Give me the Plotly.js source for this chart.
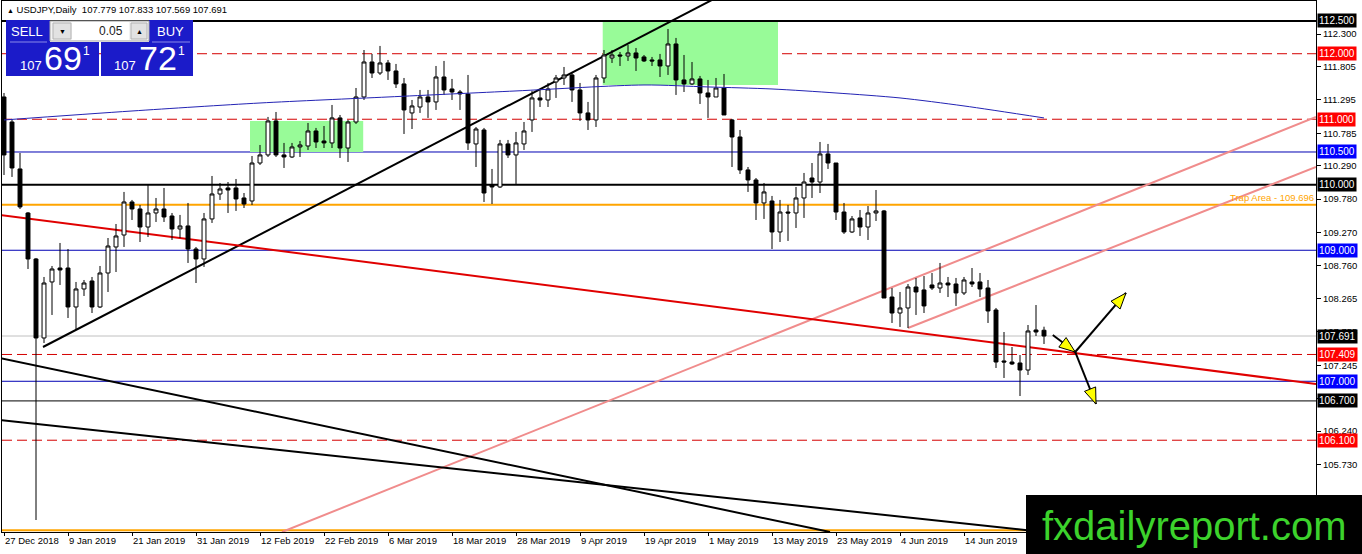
<!DOCTYPE html>
<html>
<head>
<meta charset="utf-8">
<script src="https://cdn.plot.ly/plotly-3.0.1.min.js"></script>
<style>
  html, body { margin: 0; padding: 0; background: #fff; }
  #chart { width: 1362px; height: 554px; }
</style>
</head>
<body>
<div id="chart"></div>
<script>
/* data */
const symbol = "USDJPY";
const period = "Daily";

const dateLabels = ["27 Dec 2018", "9 Jan 2019", "21 Jan 2019", "31 Jan 2019", "12 Feb 2019", "22 Feb 2019",
  "6 Mar 2019", "18 Mar 2019", "28 Mar 2019", "9 Apr 2019", "19 Apr 2019", "1 May 2019", "13 May 2019",
  "23 May 2019", "4 Jun 2019", "14 Jun 2019"];
const dateLabelBars = [0, 8, 16, 24, 32, 40, 48, 56, 64, 72, 80, 88, 96, 104, 112, 120];

const open = [111.340, 110.958, 110.241, 109.569, 108.867, 107.661, 108.516, 108.729, 108.729, 108.134,
  108.409, 108.531, 108.134, 108.653, 109.050, 109.233, 109.737, 109.630, 109.355, 109.569,
  109.630, 109.523, 109.325, 109.371, 109.019, 108.867, 109.478, 109.859, 109.951, 109.951,
  109.798, 109.752, 110.332, 110.455, 110.974, 110.455, 110.424, 110.577, 110.592, 110.821,
  110.668, 110.638, 111.020, 110.561, 110.958, 111.340, 111.874, 111.706, 111.859, 111.737,
  111.539, 111.096, 111.187, 111.340, 111.264, 111.645, 111.462, 111.416, 111.386, 110.623,
  110.836, 109.997, 109.966, 110.623, 110.455, 110.623, 110.989, 111.325, 111.294, 111.569,
  111.630, 111.676, 111.447, 111.096, 110.989, 111.630, 111.935, 111.981, 111.966, 112.012,
  111.951, 111.905, 111.905, 111.813, 112.149, 111.600, 111.539, 111.615, 111.401, 111.340,
  111.477, 110.989, 110.729, 110.226, 110.073, 109.722, 109.752, 109.279, 109.584, 109.569,
  109.798, 110.103, 110.042, 110.470, 110.332, 109.584, 109.279, 109.493, 109.355, 109.569,
  109.600, 108.286, 108.042, 108.119, 108.439, 108.394, 108.470, 108.424, 108.500, 108.485,
  108.348, 108.516, 108.516, 108.424, 108.088, 107.310, 107.294, 107.279, 107.172, 107.783,
  107.779];
const high = [111.401, 111.004, 110.485, 109.584, 108.882, 108.592, 108.760, 109.111, 109.019, 108.516,
  108.546, 108.592, 108.760, 109.187, 109.401, 109.890, 109.768, 109.691, 109.997, 109.798,
  109.951, 109.569, 109.539, 109.722, 109.050, 109.569, 110.134, 110.027, 110.042, 110.088,
  109.874, 110.439, 110.607, 111.035, 111.111, 110.638, 110.638, 110.668, 110.943, 110.867,
  110.897, 111.218, 111.065, 110.989, 111.477, 112.057, 111.997, 112.119, 111.905, 111.844,
  111.630, 111.294, 111.447, 111.447, 111.813, 111.890, 111.615, 111.447, 111.676, 110.882,
  110.867, 110.241, 110.684, 110.684, 110.806, 110.958, 111.432, 111.447, 111.554, 111.676,
  111.798, 111.722, 111.554, 111.264, 111.676, 112.057, 112.057, 112.027, 112.134, 112.088,
  111.981, 111.951, 111.997, 112.378, 112.241, 111.981, 111.874, 111.661, 111.600, 111.630,
  111.691, 111.004, 110.836, 110.271, 110.103, 110.027, 109.829, 109.768, 109.691, 109.966,
  110.180, 110.332, 110.653, 110.623, 110.332, 109.722, 109.523, 109.615, 109.676, 109.920,
  109.615, 108.424, 108.363, 108.485, 108.577, 108.607, 108.653, 108.806, 108.592, 108.577,
  108.592, 108.729, 108.653, 108.546, 108.119, 107.752, 107.523, 107.401, 107.859, 108.164,
  107.833];
const low = [110.149, 110.119, 109.630, 108.714, 104.882, 107.584, 108.012, 108.470, 107.966, 107.783,
  108.302, 108.042, 108.119, 108.363, 108.668, 109.050, 109.462, 109.126, 109.203, 109.432,
  109.432, 109.157, 109.187, 108.806, 108.500, 108.745, 109.417, 109.768, 109.569, 109.600,
  109.645, 109.691, 110.302, 110.424, 110.424, 110.256, 110.409, 110.424, 110.531, 110.561,
  110.561, 110.561, 110.409, 110.348, 110.928, 111.294, 111.630, 111.676, 111.600, 111.477,
  110.775, 110.851, 111.096, 111.020, 111.142, 111.371, 111.294, 111.142, 110.531, 110.271,
  109.737, 109.706, 109.951, 110.409, 110.012, 110.531, 110.806, 111.187, 111.187, 111.325,
  111.523, 111.264, 110.974, 110.836, 110.882, 111.554, 111.859, 111.813, 111.890, 111.737,
  111.874, 111.813, 111.645, 111.676, 111.371, 111.416, 111.523, 111.233, 111.020, 111.340,
  111.065, 110.271, 110.165, 109.890, 109.462, 109.478, 109.019, 109.126, 109.142, 109.340,
  109.493, 109.798, 109.874, 110.241, 109.462, 109.249, 109.264, 109.218, 109.157, 109.447,
  108.271, 107.890, 107.829, 107.813, 108.012, 108.042, 108.394, 108.348, 108.286, 108.150,
  108.317, 108.439, 108.286, 107.890, 107.203, 107.050, 107.249, 106.775, 107.096, 107.691,
  107.569];
const close = [110.455, 110.256, 109.661, 108.867, 107.661, 108.500, 108.714, 108.699, 108.134, 108.409,
  108.500, 108.134, 108.653, 109.065, 109.218, 109.737, 109.630, 109.355, 109.569, 109.630,
  109.508, 109.325, 109.371, 109.019, 108.867, 109.478, 109.859, 109.935, 109.920, 109.783,
  109.706, 110.332, 110.455, 110.974, 110.455, 110.424, 110.577, 110.607, 110.821, 110.653,
  110.638, 111.020, 110.561, 110.958, 111.340, 111.874, 111.706, 111.859, 111.737, 111.539,
  111.142, 111.203, 111.340, 111.264, 111.645, 111.447, 111.416, 111.386, 110.638, 110.851,
  109.874, 109.966, 110.623, 110.455, 110.638, 110.821, 111.325, 111.294, 111.462, 111.630,
  111.676, 111.447, 111.096, 110.989, 111.630, 111.981, 111.981, 111.966, 112.012, 111.935,
  111.890, 111.890, 111.813, 112.149, 111.600, 111.539, 111.615, 111.401, 111.340, 111.477,
  111.065, 110.729, 110.226, 110.073, 109.722, 109.890, 109.279, 109.584, 109.569, 109.798,
  110.042, 110.042, 110.470, 110.332, 109.584, 109.279, 109.478, 109.355, 109.569, 109.600,
  108.271, 108.042, 108.119, 108.439, 108.363, 108.150, 108.424, 108.500, 108.470, 108.348,
  108.546, 108.485, 108.409, 108.073, 107.294, 107.294, 107.264, 107.172, 107.768, 107.752,
  107.691];
const bars = open.map((_, i) => i);

// moving average (blue curve)
const maBars = [0, 16, 32, 48, 64, 80, 88, 96, 104, 112, 120, 130];
const maValues = [110.989, 111.126, 111.248, 111.340, 111.432, 111.523, 111.493, 111.462, 111.401, 111.325, 111.203, 111.020];

const priceTicks = [112.300, 111.805, 111.295, 110.785, 110.290, 109.780, 109.270, 108.760, 108.265,
  107.755, 107.245, 106.740, 106.240, 105.730, 105.220];

// horizontal levels and their kind
const levels = [112.500, 112.000, 111.000, 110.500, 110.000, 109.000, 107.691, 107.409, 107.000, 106.700, 106.100];
const levelKinds = ["major", "red", "red", "blue", "major", "blue", "price", "red", "blue", "black", "red"];
const trapLevel = 109.696;
const floorLevel = 104.725;

// trendlines: [bar0, price0, bar1, price1]
const redTrend = [-0.5, 109.539, 164, 106.958];
const riseTrend = [4.875, 107.523, 88.5, 112.821];
const fallTrendA = [-0.5, 107.355, 103.25, 104.699];
const fallTrendB = [-0.5, 106.409, 140, 104.567];
const pinkLong = [34.75, 104.699, 164, 111.035];
const pinkShort = [113, 107.813, 164, 110.271];

// green zones: [bar0, bar1, priceLow, priceHigh]
const zoneA = [30.75, 44.9, 110.500, 110.974];
const zoneB = [74.84, 96.75, 111.523, 112.485];

// arrows: from -> to
const arrowFromBar = [131.1, 133.9, 133.9];
const arrowFromPrice = [107.707, 107.447, 107.447];
const arrowToBar = [133.9, 140.25, 136.5];
const arrowToPrice = [107.447, 108.348, 106.653];

const lotSize = "0.05";
const bid = 107.691, ask = 107.721;

/* layout geometry */
const W = 1362, H = 554;
const M = { l: 2, r: 46, t: 1, b: 22 };
const plotW = W - M.l - M.r, plotH = H - M.t - M.b;
const xRange = [-0.25, 164];
const yRange = [104.699, 112.805];
const pxBar = plotW / (xRange[1] - xRange[0]);
const pxPrice = plotH / (yRange[1] - yRange[0]);
const px = x => (x - M.l) / plotW;
const py = y => (H - M.b - y) / plotH;

const FONT = "Liberation Sans, Arial, sans-serif";
const BLUE = "#1b1bc9";

const levelStyle = {
  major: { line: "#000000", width: 2, dash: "solid", label: "#000000" },
  black: { line: "#000000", width: 1, dash: "solid", label: "#000000" },
  red:   { line: "#d40000", width: 1, dash: "10px,5px", label: "#ff0000" },
  blue:  { line: "#0000b4", width: 1, dash: "solid", label: "#0000ff" },
  price: { line: "#c0c0c0", width: 1, dash: "solid", label: "#000000" },
};

const shapes = [];
const annotations = [];

[zoneA, zoneB].forEach(z => shapes.push({
  type: "rect", xref: "x", yref: "y", x0: z[0], x1: z[1], y0: z[2], y1: z[3],
  fillcolor: "#98fb98", line: { width: 0 }, layer: "below"
}));

levels.forEach((p, k) => {
  const s = levelStyle[levelKinds[k]];
  shapes.push({ type: "line", xref: "paper", x0: 0, x1: 1, yref: "y", y0: p, y1: p,
    line: { color: s.line, width: s.width, dash: s.dash }, layer: "below" });
  annotations.push({ xref: "paper", x: 1, xanchor: "left", xshift: 1, yref: "y", y: p,
    text: p.toFixed(3), showarrow: false, bgcolor: s.label, borderpad: 1,
    font: { family: FONT, size: 10, color: "#ffffff" } });
});

[trapLevel, floorLevel].forEach(p => shapes.push({ type: "line", xref: "paper", x0: 0, x1: 1, yref: "y",
  y0: p, y1: p, line: { color: "#ffa500", width: 2 }, layer: "below" }));
annotations.push({ xref: "paper", x: 1, xanchor: "right", yref: "y", y: trapLevel, yanchor: "bottom",
  text: "Trap Area - " + trapLevel.toFixed(3), showarrow: false,
  font: { family: FONT, size: 9.5, color: "#ffa500" } });

function trend(t, color, width) {
  shapes.push({ type: "line", xref: "x", yref: "y", x0: t[0], y0: t[1], x1: t[2], y1: t[3],
    line: { color: color, width: width }, layer: "below" });
}
trend(pinkLong, "#f08c8c", 2);
trend(pinkShort, "#f08c8c", 2);
trend(fallTrendA, "#000000", 2);
trend(fallTrendB, "#000000", 2);
trend(riseTrend, "#000000", 2);
trend(redTrend, "#e00000", 2);

// arrows with yellow heads
function headPath(x0, y0, x1, y1) {
  const dx = (x1 - x0) * pxBar, dy = (y1 - y0) * pxPrice;
  const len = Math.hypot(dx, dy), ux = dx / len, uy = dy / len;
  const L = 16, hw = 6;
  const bx = -ux * L, by = -uy * L;
  const pts = [[0, 0], [bx - uy * hw, by + ux * hw], [bx + uy * hw, by - ux * hw]];
  return "M" + pts.map(p => (x1 + p[0] / pxBar) + "," + (y1 + p[1] / pxPrice)).join(" L") + " Z";
}
arrowToBar.forEach((xb, k) => {
  shapes.push({ type: "line", xref: "x", yref: "y", x0: arrowFromBar[k], y0: arrowFromPrice[k],
    x1: xb, y1: arrowToPrice[k], line: { color: "#000", width: 2 }, layer: "above" });
});
arrowToBar.forEach((xb, k) => {
  shapes.push({ type: "path", xref: "x", yref: "y",
    path: headPath(arrowFromBar[k], arrowFromPrice[k], xb, arrowToPrice[k]),
    fillcolor: "#ffff00", line: { color: "#000", width: 1 }, layer: "above" });
});

/* one-click trading panel */
function prect(x0, y0, x1, y1, fill, lineColor) {
  shapes.push({ type: "rect", xref: "paper", yref: "paper", x0: px(x0), x1: px(x1), y0: py(y1), y1: py(y0),
    fillcolor: fill, line: { color: lineColor || fill, width: lineColor ? 1 : 0 }, layer: "above" });
}
function ptext(x, y, text, size, color, anchor) {
  annotations.push({ xref: "paper", yref: "paper", x: px(x), y: py(y), xanchor: anchor || "center",
    yanchor: "middle", text: text, showarrow: false, font: { family: FONT, size: size, color: color } });
}
prect(6, 20, 50, 42, BLUE);
prect(149, 20, 193, 42, BLUE);
prect(50, 21, 149, 41, "#f2f2f2", "#a8a8a8");
prect(53, 23, 71, 39, "#e2e2e2", "#b4b4b4");
prect(72, 22, 129, 40, "#ffffff");
prect(131, 23, 147, 39, "#e2e2e2", "#b4b4b4");
prect(6, 42, 99, 76, BLUE);
prect(101, 42, 193, 76, BLUE);
shapes.push({ type: "line", xref: "paper", yref: "paper", x0: px(10), x1: px(47), y0: py(42), y1: py(42),
  line: { color: "#8a8ae8", width: 1 }, layer: "above" });
shapes.push({ type: "line", xref: "paper", yref: "paper", x0: px(152), x1: px(190), y0: py(42), y1: py(42),
  line: { color: "#8a8ae8", width: 1 }, layer: "above" });

ptext(27, 31, "SELL", 13, "#ffffff");
ptext(170, 31, "BUY", 13, "#ffffff");
ptext(62, 31, "▼", 7, "#000000");
ptext(139, 31, "▲", 7, "#000000");
ptext(125, 31, lotSize, 12, "#202020", "right");

function quote(v, xBig, xSmall, xSup) {
  const s = v.toFixed(3);
  ptext(xSmall, 66, s.slice(0, 3), 13, "#ffffff");
  ptext(xBig, 58, s.slice(4, 6), 34, "#ffffff");
  ptext(xSup, 51, s.slice(6), 12, "#ffffff");
}
quote(bid, 63, 31, 86);
quote(ask, 158, 125, 181);

// header line
const last = open.length - 1;
annotations.push({ xref: "paper", yref: "paper", x: px(5), y: py(10), xanchor: "left", yanchor: "middle",
  showarrow: false, font: { family: FONT, size: 9.5, color: "#000" },
  text: '<span style="font-size:7px">▲</span> ' + symbol + "," + period + "  " +
    [open[last], high[last], low[last], close[last]].map(v => v.toFixed(3)).join(" ") });

// watermark
shapes.push({ type: "rect", xref: "paper", yref: "paper", x0: px(1026), x1: px(1362), y0: py(554), y1: py(495),
  fillcolor: "#000000", line: { width: 0 }, layer: "above" });
annotations.push({ xref: "paper", yref: "paper", x: px(1194), y: py(526), xanchor: "center", yanchor: "middle",
  text: "fxdailyreport.com", showarrow: false, font: { family: FONT, size: 40, color: "#3cd22c" } });

const traces = [
  {
    type: "candlestick", x: bars, open: open, high: high, low: low, close: close,
    increasing: { line: { color: "#000000", width: 1 }, fillcolor: "#ffffff" },
    decreasing: { line: { color: "#000000", width: 1 }, fillcolor: "#000000" },
    whiskerwidth: 0, hoverinfo: "none", showlegend: false
  },
  {
    type: "scatter", mode: "lines", x: maBars, y: maValues,
    line: { color: "#2323b4", width: 1, shape: "spline", smoothing: 0.8 },
    hoverinfo: "none", showlegend: false
  }
];

const layout = {
  width: W, height: H, autosize: false,
  margin: M,
  paper_bgcolor: "#ffffff", plot_bgcolor: "#ffffff",
  showlegend: false,
  font: { family: FONT, size: 10, color: "#000" },
  xaxis: {
    range: xRange, showgrid: false, zeroline: false, showline: true, linecolor: "#000", linewidth: 1,
    mirror: true, ticks: "outside", ticklen: 3, tickcolor: "#000",
    tickvals: dateLabelBars, ticktext: dateLabels, ticklabelposition: "outside right",
    tickfont: { family: FONT, size: 9.5, color: "#000" },
    rangeslider: { visible: false }, fixedrange: true
  },
  yaxis: {
    range: yRange, side: "right", showgrid: false, zeroline: false, showline: true, linecolor: "#000",
    linewidth: 1, mirror: true, ticks: "outside", ticklen: 4, tickcolor: "#000",
    tickvals: priceTicks, ticktext: priceTicks.map(v => v.toFixed(3)),
    tickfont: { family: FONT, size: 9.5, color: "#000" }, fixedrange: true
  },
  shapes: shapes,
  annotations: annotations
};

Plotly.newPlot("chart", traces, layout, { staticPlot: true, displayModeBar: false });
</script>
</body>
</html>
